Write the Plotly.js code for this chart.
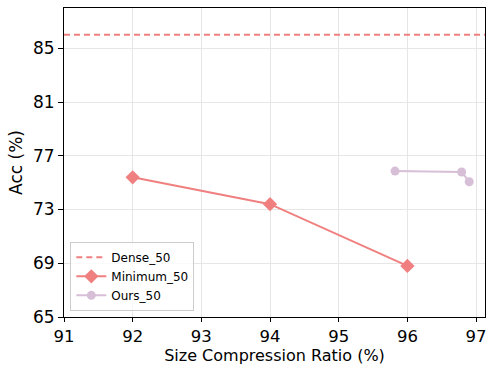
<!DOCTYPE html>
<html><head><meta charset="utf-8">
<script src="https://cdn.plot.ly/plotly-3.0.1.min.js"></script>
<style>body{margin:0;padding:0;background:#fff}#chart{width:487px;height:365px}</style>
</head><body><div id="chart"></div>
<script>
const denseName = "Dense_50";
const denseAcc = 86.0;
const minName = "Minimum_50";
const minX = [92, 94, 96];
const minY = [75.4, 73.4, 68.8];
const oursName = "Ours_50";
const oursX = [95.82, 96.79, 96.9];
const oursY = [75.86, 75.79, 75.07];
const xTicks = [91, 92, 93, 94, 95, 96, 97];
const yTicks = [65, 69, 73, 77, 81, 85];
const xRange = [91, 97.13];
const yRange = [65, 88];

const font = "DejaVu Sans, sans-serif";
const traces = [
  {x: xRange, y: [denseAcc, denseAcc], mode: "lines", name: denseName,
   line: {color: "#F08080", width: 2, dash: "6px,4px"}},
  {x: minX, y: minY, mode: "lines+markers", name: minName,
   line: {color: "#F08080", width: 2}, marker: {symbol: "diamond", size: 11, color: "#F08080"}},
  {x: oursX, y: oursY, mode: "lines+markers", name: oursName,
   line: {color: "#D8BFD8", width: 2}, marker: {symbol: "circle", size: 9, color: "#D8BFD8"}}
];
const layout = {
  width: 487, height: 365,
  margin: {l: 64, r: 2, t: 8, b: 48},
  paper_bgcolor: "#fff", plot_bgcolor: "#fff",
  font: {family: font, color: "#000"},
  showlegend: true,
  legend: {x: 0.015, y: 0.02, xanchor: "left", yanchor: "bottom",
    bgcolor: "rgba(255,255,255,0.8)", bordercolor: "#ccc", borderwidth: 1,
    font: {size: 12, family: font}, tracegroupgap: 0},
  xaxis: {range: xRange, tickvals: xTicks, ticktext: xTicks.map(String),
    showgrid: true, gridcolor: "#e6e6e6", gridwidth: 1, zeroline: false,
    showline: true, linecolor: "#000", linewidth: 1, mirror: true,
    ticks: "outside", ticklen: 4, tickcolor: "#000",
    tickfont: {size: 16.5, family: font},
    title: {text: "Size Compression Ratio (%)", font: {size: 16, family: font}, standoff: 10}},
  yaxis: {range: yRange, tickvals: yTicks, ticktext: yTicks.map(String),
    showgrid: true, gridcolor: "#e6e6e6", gridwidth: 1, zeroline: false,
    showline: true, linecolor: "#000", linewidth: 1, mirror: true,
    ticks: "outside", ticklen: 5, tickcolor: "#000",
    tickfont: {size: 17, family: font},
    title: {text: "Acc (%)", font: {size: 17, family: font}, standoff: 6}}
};
Plotly.newPlot("chart", traces, layout, {displayModeBar: false, staticPlot: true});
</script></body></html>
